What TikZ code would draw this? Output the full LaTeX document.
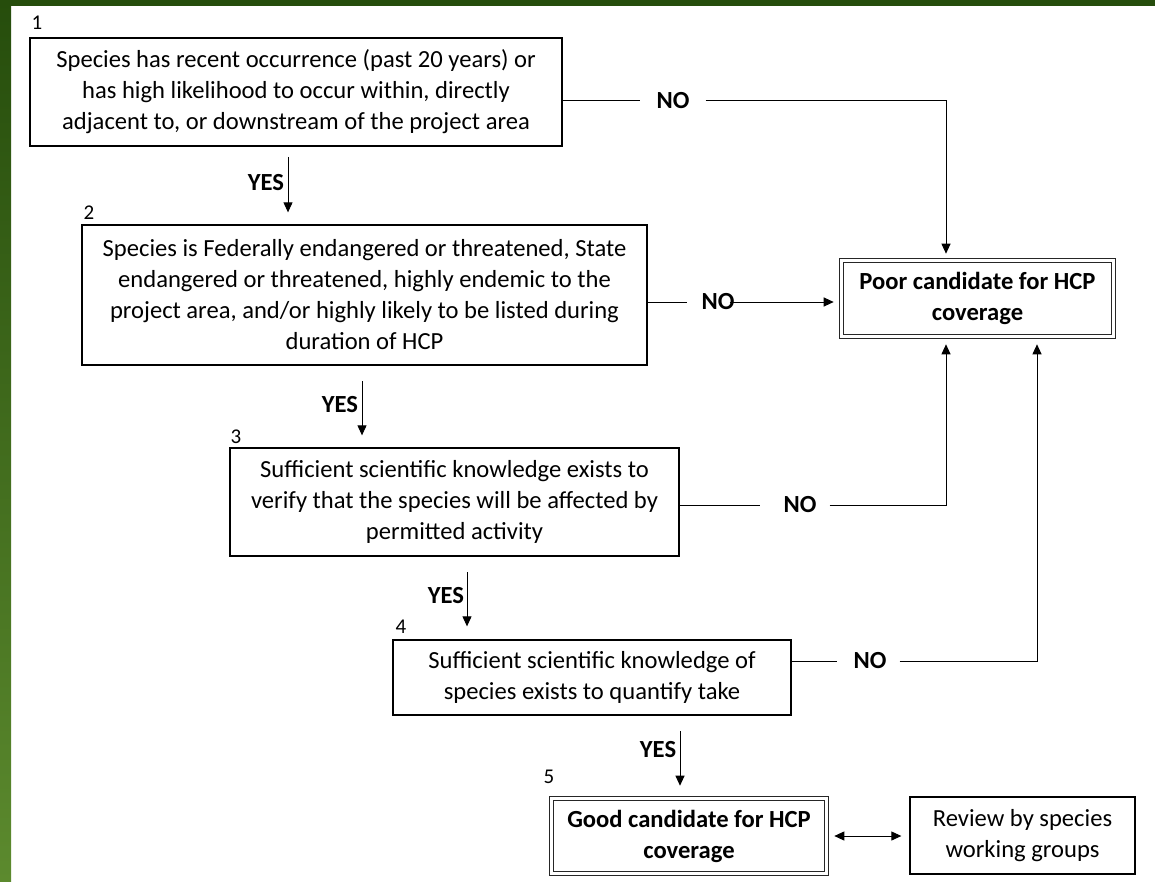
\documentclass[tikz,border=0pt]{standalone}
\usepackage{fontspec}
\setmainfont{Carlito}
\usetikzlibrary{arrows.meta,calc}
\definecolor{gdark}{HTML}{264D0C}
\definecolor{glight}{HTML}{5C8A2E}
\tikzset{
  box/.style={draw=black, line width=1.3pt, fill=white, align=center, inner sep=0pt,
    font=\fontsize{24.6}{31}\selectfont},
  dbox/.style={box, draw=black!85, double=white, double distance=2.2pt, line width=1.6pt,
    font=\fontsize{24.6}{31}\selectfont\bfseries},
  lbl/.style={font=\fontsize{24.6}{28}\selectfont\bfseries, inner sep=1pt},
  num/.style={font=\fontsize{21}{24}\selectfont, inner sep=0pt},
  conn/.style={line width=1pt},
  arr/.style={conn, -{Triangle[length=10pt,width=9pt]}},
}
\begin{document}
\begin{tikzpicture}[x=1pt,y=-1pt]
\useasboundingbox (0,0) rectangle (1155,882);
\fill[white] (0,0) rectangle (1155,882);
\shade[top color=gdark, bottom color=glight] (0,0) rectangle (11,882);
\fill[gdark] (0,0) rectangle (1155,6);

% boxes
\node[box, minimum width=532pt, minimum height=108pt] (b1) at (296,92)
  {Species has recent occurrence (past 20 years) or\\has high likelihood to occur within, directly\\adjacent to, or downstream of the project area};
\node[box, minimum width=565pt, minimum height=140pt] (b2) at (364.5,295)
  {Species is Federally endangered or threatened, State\\endangered or threatened, highly endemic to the\\project area, and/or highly likely to be listed during\\duration of HCP};
\node[box, minimum width=449pt, minimum height=108pt] (b3) at (454.5,502)
  {Sufficient scientific knowledge exists to\\verify that the species will be affected by\\permitted activity};
\node[box, minimum width=398pt, minimum height=75pt] (b4) at (592,677.5)
  {Sufficient scientific knowledge of\\species exists to quantify take};
\node[dbox, minimum width=275pt, minimum height=75pt] (b5) at (689,836)
  {Good candidate for HCP\\coverage};
\node[box, minimum width=225pt, minimum height=77pt] (rev) at (1022.5,835.5)
  {Review by species\\working groups};
\node[dbox, minimum width=272pt, minimum height=76pt] (poor) at (977.5,298.5)
  {Poor candidate for HCP\\coverage};

% numbers
\node[num] (n1) at (37,23) {1};
\node[num] (n2) at (89,213) {2};
\node[num] (n3) at (236,437) {3};
\node[num] (n4) at (401,627) {4};
\node[num] (n5) at (549,777) {5};

% YES labels and arrows
\node[lbl] (y1) at (266,183) {YES};
\node[lbl] (y2) at (340,405) {YES};
\node[lbl] (y3) at (446,596) {YES};
\node[lbl] (y4) at (658,750) {YES};
\coordinate (t1) at (288,157);
\coordinate (t2) at (362,381);
\coordinate (t3) at (467,572);
\coordinate (t4) at (680,731);
\draw[arr, shorten >=12pt] (t1) -- (t1 |- b2.north);
\draw[arr, shorten >=12pt] (t2) -- (t2 |- b3.north);
\draw[arr, shorten >=13pt] (t3) -- (t3 |- b4.north);
\draw[arr, shorten >=12pt] (t4) -- (t4 |- b5.north);

% NO labels and connectors
\node[lbl] (no1) at (673,101) {NO};
\node[lbl] (no2) at (718,302) {NO};
\node[lbl] (no3) at (800,505) {NO};
\node[lbl] (no4) at (870,661) {NO};
\coordinate (cx1) at (946,0);
\coordinate (cx2) at (1037,0);

\draw[conn] (no1.west -| b1.east) -- ($(no1.west)+(-15,0)$);
\draw[arr, shorten >=6pt] ($(no1.east)+(15,0)$) -| (cx1 |- poor.north);

\draw[conn] (no2.west -| b2.east) -- ($(no2.west)+(-13,0)$);
\draw[arr, shorten >=7pt] ($(no2.east)+(-6,0)$) -- (no2 -| poor.west);

\draw[conn] (no3.west -| b3.east) -- ($(no3.west)+(-22,0)$);
\draw[arr, shorten >=7pt] ($(no3.east)+(12,0)$) -| (cx1 |- poor.south);

\draw[conn] (no4.west -| b4.east) -- ($(no4.west)+(-15,0)$);
\draw[arr, shorten >=7pt] ($(no4.east)+(12,0)$) -| (cx2 |- poor.south);

% review link
\draw[conn, {Triangle[length=10pt,width=9pt]}-{Triangle[length=10pt,width=9pt]}, shorten <=7pt, shorten >=8pt] (b5.east) -- (b5.east -| rev.west);
\end{tikzpicture}
\end{document}
